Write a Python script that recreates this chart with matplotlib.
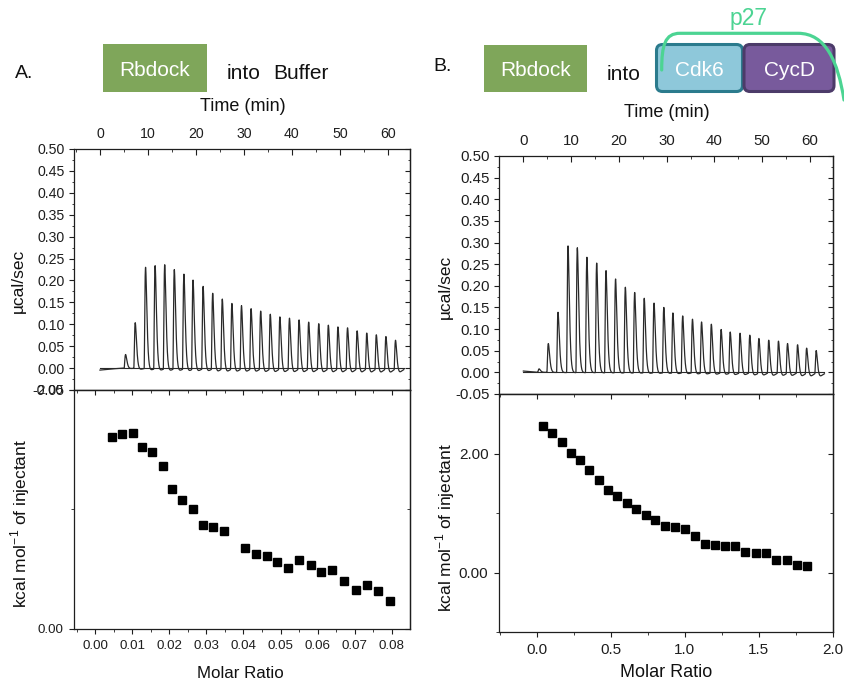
import numpy as np
import matplotlib
matplotlib.use('Agg')
import matplotlib.pyplot as plt
from matplotlib.patches import FancyBboxPatch, Rectangle, PathPatch
from matplotlib.path import Path
from matplotlib.ticker import MultipleLocator, FormatStrFormatter

plt.rcParams['font.family'] = ['Liberation Sans', 'DejaVu Sans']

# ---------------- data ----------------
# A: Rbdock into buffer -- raw thermogram (peak top time, peak height, undershoot)
a_peak_time = [5.35, 7.36, 9.51, 11.5, 13.5, 15.5, 17.5, 19.4, 21.5, 23.5, 25.5, 27.5,
               29.5, 31.5, 33.5, 35.5, 37.5, 39.5, 41.5, 43.5, 45.6, 47.6, 49.6, 51.6,
               53.6, 55.6, 57.6, 59.6, 61.6]
a_peak_height = [0.032, 0.107, 0.236, 0.241, 0.244, 0.233, 0.223, 0.210, 0.195, 0.180,
                 0.167, 0.157, 0.152, 0.145, 0.140, 0.133, 0.127, 0.124, 0.120, 0.115,
                 0.111, 0.108, 0.104, 0.102, 0.095, 0.090, 0.086, 0.082, 0.073]
a_dip = [0.002, 0.006, 0.010, 0.011, 0.012, 0.012, 0.013, 0.013, 0.013, 0.014, 0.014,
         0.014, 0.014, 0.014, 0.015, 0.015, 0.015, 0.015, 0.015, 0.015, 0.015, 0.015,
         0.015, 0.015, 0.015, 0.015, 0.015, 0.015, 0.014]
a_drift_time = [0, 1, 2, 3, 4, 5]
a_drift_value = [-0.0046, -0.0035, -0.0025, -0.0015, -0.0007, 0.0]
a_run_end = 63.3

# A: integrated heats
a_ratio = [0.00467, 0.00737, 0.01007, 0.01267, 0.01537, 0.01816, 0.02076, 0.02355,
           0.02634, 0.02912, 0.03182, 0.03479, 0.04054, 0.04333, 0.04638, 0.04908,
           0.05213, 0.0551, 0.05807, 0.06103, 0.064, 0.06706, 0.07029, 0.07326,
           0.07631, 0.07946]
a_heat = [1.606, 1.631, 1.639, 1.525, 1.478, 1.367, 1.172, 1.078, 1.003, 0.867, 0.850,
          0.817, 0.681, 0.631, 0.608, 0.564, 0.508, 0.575, 0.536, 0.481, 0.497, 0.403,
          0.328, 0.369, 0.317, 0.231]

# B: Rbdock into Cdk6-CycD-p27
b_peak_time = [3.3, 5.23, 7.26, 9.35, 11.3, 13.3, 15.35, 17.3, 19.3, 21.35, 23.3, 25.3,
               27.35, 29.4, 31.3, 33.35, 35.4, 37.3, 39.35, 41.4, 43.3, 45.35, 47.4,
               49.3, 51.36, 53.4, 55.3, 57.4, 59.3, 61.3]
b_peak_height = [0.008, 0.067, 0.140, 0.294, 0.290, 0.268, 0.255, 0.238, 0.219, 0.200,
                 0.188, 0.175, 0.164, 0.154, 0.142, 0.135, 0.128, 0.122, 0.117, 0.105,
                 0.100, 0.097, 0.093, 0.086, 0.082, 0.080, 0.075, 0.072, 0.065, 0.059]
b_dip = [0.0, 0.001, 0.002, 0.003, 0.003, 0.003, 0.004, 0.004, 0.005, 0.005, 0.005,
         0.006, 0.006, 0.006, 0.007, 0.007, 0.008, 0.008, 0.009, 0.009, 0.010, 0.010,
         0.011, 0.011, 0.012, 0.012, 0.012, 0.013, 0.013, 0.013]
b_drift_time = [0, 1, 2, 3]
b_drift_value = [0.003, 0.002, 0.001, 0.0]
b_run_end = 63.0

b_ratio = [0.045, 0.106, 0.169, 0.229, 0.292, 0.355, 0.418, 0.481, 0.544, 0.607, 0.672,
           0.735, 0.800, 0.865, 0.933, 1.000, 1.067, 1.135, 1.202, 1.270, 1.337, 1.407,
           1.479, 1.546, 1.618, 1.690, 1.757, 1.827]
b_heat = [2.462, 2.340, 2.195, 2.011, 1.894, 1.721, 1.554, 1.382, 1.281, 1.175, 1.075,
          0.964, 0.875, 0.780, 0.763, 0.730, 0.618, 0.479, 0.462, 0.440, 0.440, 0.345,
          0.323, 0.323, 0.212, 0.217, 0.134, 0.111]

INK = '#1e1e1e'
TRACE = '#2a2a2a'


def thermogram(peak_time, peak_height, dip, drift_time, drift_value, t_end):
    t = np.linspace(0, t_end, 8000)
    y = np.interp(t, drift_time, drift_value, right=0.0)
    for tp, h, d in zip(peak_time, peak_height, dip):
        s = np.clip(t - (tp - 0.3), 0, None)
        spike = (s / 0.3) ** 2 * np.exp(2 * (1 - s / 0.3))
        sag = (s / 0.75) ** 2 * np.exp(2 * (1 - s / 0.75))
        y += h * spike - d * sag
    return t, y


def style_top(ax, xlim, fs):
    ax.set_xlim(*xlim)
    ax.set_ylim(-0.05, 0.50)
    ax.xaxis.set_major_locator(MultipleLocator(10))
    ax.xaxis.set_minor_locator(MultipleLocator(5))
    ax.yaxis.set_major_locator(MultipleLocator(0.05))
    ax.yaxis.set_minor_locator(MultipleLocator(0.025))
    ax.yaxis.set_major_formatter(FormatStrFormatter('%.2f'))
    ax.tick_params(axis='x', which='both', top=True, bottom=False, labeltop=True,
                   labelbottom=False, direction='in', colors=INK, labelsize=fs)
    ax.tick_params(axis='x', which='major', length=4, pad=6)
    ax.tick_params(axis='x', which='minor', length=2.5)
    ax.tick_params(axis='y', which='both', left=True, right=False, direction='out',
                   colors=INK, labelsize=fs)
    ax.tick_params(axis='y', which='major', length=3.6, pad=3)
    ax.tick_params(axis='y', which='minor', length=1.8)
    sec = ax.secondary_yaxis('right')
    sec.yaxis.set_major_locator(MultipleLocator(0.05))
    sec.yaxis.set_minor_locator(MultipleLocator(0.025))
    sec.tick_params(which='both', direction='in', labelright=False, colors=INK)
    sec.tick_params(which='major', length=3.6)
    sec.tick_params(which='minor', length=1.8)
    for s in list(ax.spines.values()) + [sec.spines['right']]:
        s.set_color(INK)
        s.set_linewidth(0.9)


def style_bottom(ax, xlim, ylim, xmaj, xmin, xfmt, fs):
    ax.set_xlim(*xlim)
    ax.set_ylim(*ylim)
    ax.xaxis.set_major_locator(MultipleLocator(xmaj))
    ax.xaxis.set_minor_locator(MultipleLocator(xmin))
    ax.xaxis.set_major_formatter(FormatStrFormatter(xfmt))
    ax.yaxis.set_major_locator(MultipleLocator(2))
    ax.yaxis.set_minor_locator(MultipleLocator(1))
    ax.yaxis.set_major_formatter(FormatStrFormatter('%.2f'))
    ax.tick_params(which='both', direction='out', colors=INK, labelsize=fs,
                   top=False, right=False)
    ax.tick_params(which='major', length=3.6, pad=4)
    ax.tick_params(which='minor', length=2.2)
    secx = ax.secondary_xaxis('top')
    secx.xaxis.set_major_locator(MultipleLocator(xmaj))
    secx.xaxis.set_minor_locator(MultipleLocator(xmin))
    secx.tick_params(which='both', direction='in', labeltop=False, colors=INK)
    secx.tick_params(which='major', length=3.6)
    secx.tick_params(which='minor', length=2.2)
    secy = ax.secondary_yaxis('right')
    secy.yaxis.set_major_locator(MultipleLocator(2))
    secy.yaxis.set_minor_locator(MultipleLocator(1))
    secy.tick_params(which='both', direction='in', labelright=False, colors=INK)
    secy.tick_params(which='major', length=3.6)
    secy.tick_params(which='minor', length=2.2)
    for s in list(ax.spines.values()) + [secx.spines['top'], secy.spines['right']]:
        s.set_color(INK)
        s.set_linewidth(0.9)


fig = plt.figure(figsize=(8.45, 6.86), dpi=100)

# ---------------- header graphics (pixel coordinates) ----------------
hdr = fig.add_axes([0, 0, 1, 1])
hdr.set_xlim(0, 845)
hdr.set_ylim(686, 0)
hdr.axis('off')

GREEN = '#7fa65a'
hdr.add_patch(Rectangle((103, 44), 104, 48, facecolor=GREEN, edgecolor='none'))
hdr.add_patch(Rectangle((484, 45), 103, 47, facecolor=GREEN, edgecolor='none'))
hdr.text(155, 76.5, 'Rbdock', color='white', fontsize=15, ha='center', va='baseline')
hdr.text(535.5, 76.5, 'Rbdock', color='white', fontsize=15, ha='center', va='baseline')
hdr.text(15, 77.5, 'A.', color='#111111', fontsize=14, ha='left', va='baseline')
hdr.text(227, 79, 'into', color='#111111', fontsize=15, ha='left', va='baseline')
hdr.text(273, 79, 'Buffer', color='#111111', fontsize=15, ha='left', va='baseline')
hdr.text(433, 71, 'B.', color='#111111', fontsize=14, ha='left', va='baseline')
hdr.text(607, 79.5, 'into', color='#111111', fontsize=15, ha='left', va='baseline')

hdr.add_patch(FancyBboxPatch((656.5, 44.5), 86, 47, boxstyle='round,pad=0,rounding_size=6',
                             facecolor='#8ec8da', edgecolor='#2b7b8d', linewidth=2.2))
hdr.add_patch(FancyBboxPatch((744, 44.5), 90, 47, boxstyle='round,pad=0,rounding_size=6',
                             facecolor='#785a9c', edgecolor='#4c3b69', linewidth=2.2))
hdr.text(699.5, 76.5, 'Cdk6', color='white', fontsize=15, ha='center', va='baseline')
hdr.text(790, 76, 'CycD', color='white', fontsize=15, ha='center', va='baseline')

arc = Path([(661.7, 70), (661.7, 45), (665, 33.3), (680, 33.3), (798, 33.3),
            (826, 33.3), (838, 62), (844, 100)],
           [Path.MOVETO, Path.CURVE4, Path.CURVE4, Path.CURVE4, Path.LINETO,
            Path.CURVE4, Path.CURVE4, Path.CURVE4])
hdr.add_patch(PathPatch(arc, facecolor='none', edgecolor='#4cd493', linewidth=2.3,
                        capstyle='round', clip_on=False))
hdr.text(748.5, 24.5, 'p27', color='#4cd493', fontsize=16.5, ha='center', va='baseline')

# ---------------- panel A ----------------
axA1 = fig.add_axes([0.0876, 0.4315, 0.3976, 0.3513])
axA2 = fig.add_axes([0.0876, 0.0831, 0.3976, 0.3484])

t, y = thermogram(a_peak_time, a_peak_height, a_dip, a_drift_time, a_drift_value, a_run_end)
axA1.plot([0, a_run_end], [0, 0], color=TRACE, lw=0.8)
axA1.plot(t, y, color=TRACE, lw=0.9)
style_top(axA1, (-5.4, 64.6), 10.2)
axA1.text(0.503, 1.175, 'Time (min)', transform=axA1.transAxes, ha='center', va='center',
          fontsize=13, color='#111111')
axA1.set_ylabel('µcal/sec', fontsize=12.5, color='#111111', va='center')
axA1.yaxis.set_label_coords(-0.165, 0.452)

axA2.plot(a_ratio, a_heat, 's', color='black', ms=5.2)
style_bottom(axA2, (-0.0057, 0.0849), (0, 2), 0.01, 0.005, '%.2f', 9.6)
axA2.set_xlabel('Molar Ratio', fontsize=12.2, color='#111111', va='center')
axA2.xaxis.set_label_coords(0.494, -0.186)
axA2.set_ylabel('kcal mol$^{\\mathregular{-1}}$ of injectant', fontsize=12.5,
                color='#111111', va='center')
axA2.yaxis.set_label_coords(-0.161, 0.44)

# ---------------- panel B ----------------
axB1 = fig.add_axes([0.5905, 0.4257, 0.3953, 0.3469])
axB2 = fig.add_axes([0.5905, 0.0787, 0.3953, 0.3469])

t, y = thermogram(b_peak_time, b_peak_height, b_dip, b_drift_time, b_drift_value, b_run_end)
axB1.plot([0, b_run_end], [0, 0], color=TRACE, lw=0.8)
axB1.plot(t, y, color=TRACE, lw=0.9)
style_top(axB1, (-5.1, 64.8), 10.8)
axB1.text(0.503, 1.181, 'Time (min)', transform=axB1.transAxes, ha='center', va='center',
          fontsize=13, color='#111111')
axB1.set_ylabel('µcal/sec', fontsize=12.5, color='#111111', va='center')
axB1.yaxis.set_label_coords(-0.160, 0.45)

axB2.plot(b_ratio, b_heat, 's', color='black', ms=5.4)
style_bottom(axB2, (-0.254, 2.0), (-1, 3), 0.5, 0.25, '%.1f', 11)
axB2.set_xlabel('Molar Ratio', fontsize=13, color='#111111', va='center')
axB2.xaxis.set_label_coords(0.5, -0.170)
axB2.set_ylabel('kcal mol$^{\\mathregular{-1}}$ of injectant', fontsize=12.5,
                color='#111111', va='center')
axB2.yaxis.set_label_coords(-0.160, 0.44)

fig.savefig('out.png', dpi=100)
